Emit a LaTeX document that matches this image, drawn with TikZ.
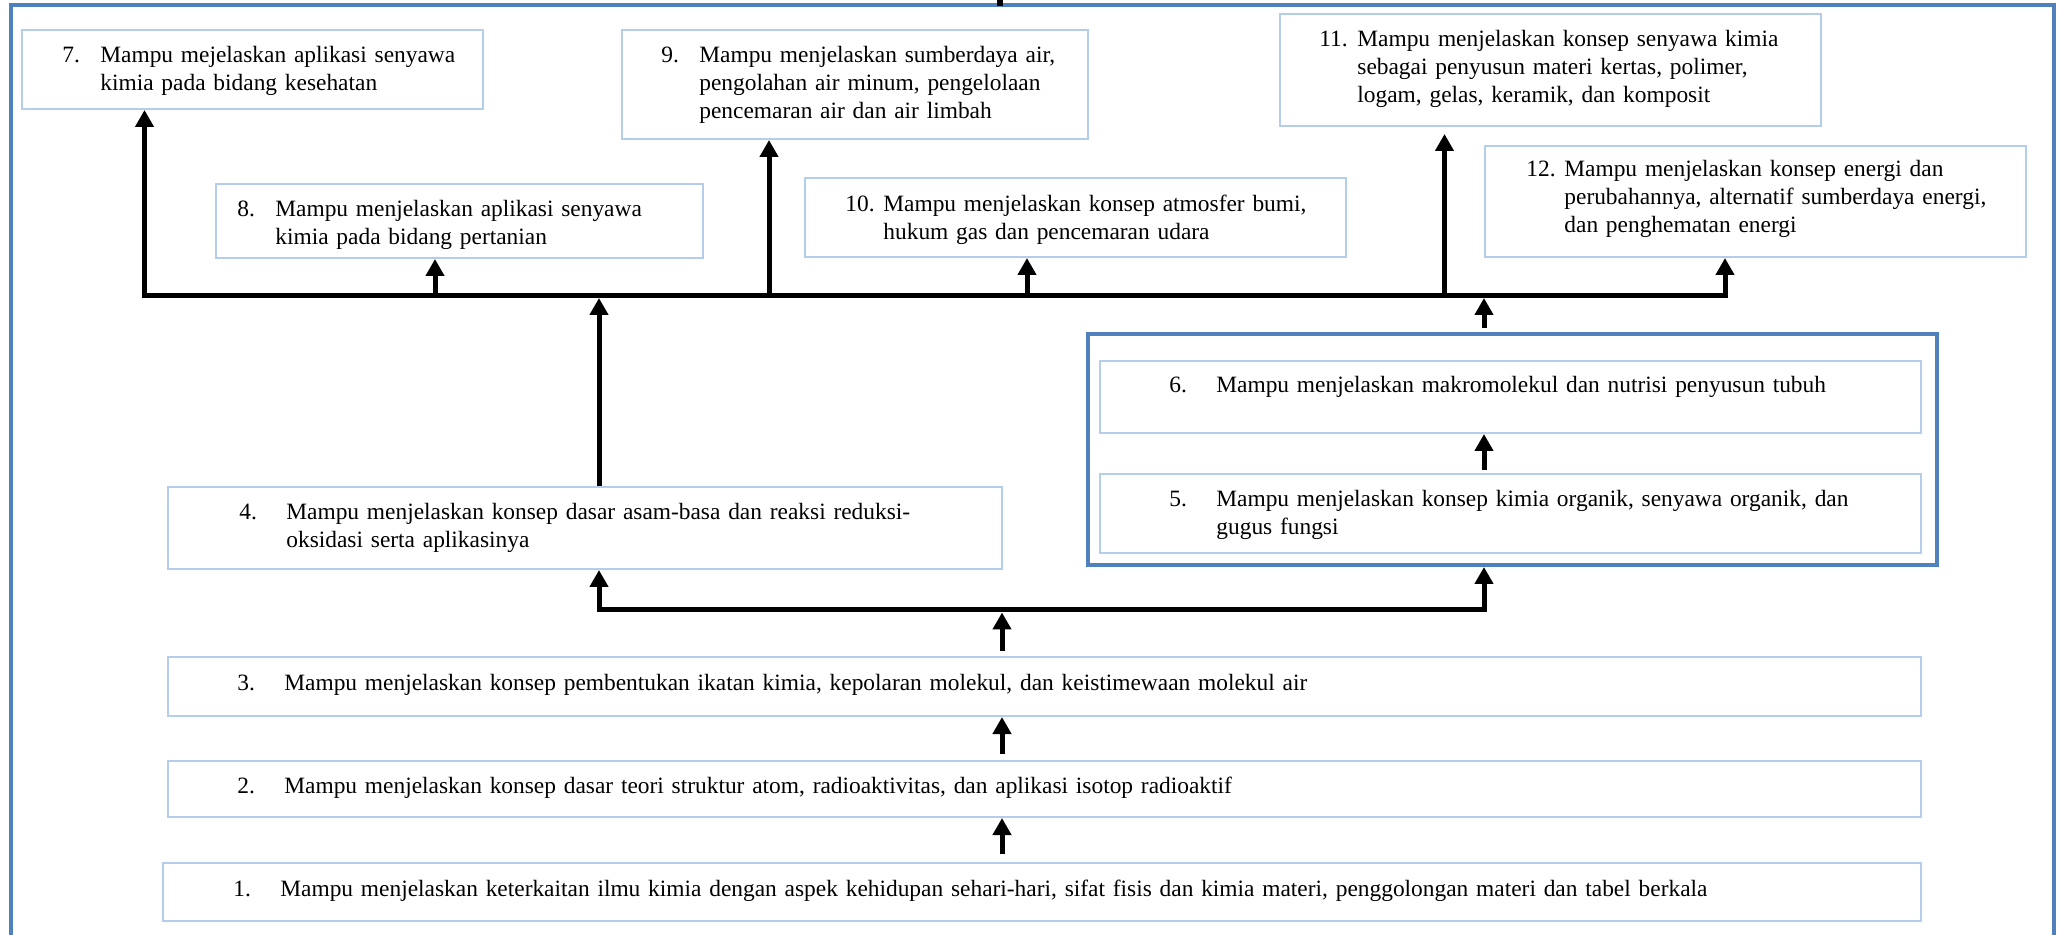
\documentclass[tikz,border=0pt]{standalone}
\usepackage{fontspec}
\setmainfont{Liberation Serif}
\usetikzlibrary{arrows.meta,fit}
\definecolor{bingkai}{HTML}{4F81BD}
\definecolor{tepikotak}{HTML}{B4CDEB}
\begin{document}
\begin{tikzpicture}[x=0.5pt,y=-0.5pt,line join=miter,font=\fontsize{11.7}{13.8}\selectfont,
 kotak/.style={draw=tepikotak,line width=1pt,inner sep=0pt},
 grup/.style={draw=bingkai,line width=2pt,inner sep=0pt},
 teks/.style={anchor=base west,inner sep=0pt,align=left},
 ujung/.tip={Triangle[width=9pt,length=8.5pt]},
 panah/.style={line width=2.5pt,-ujung},
 ]
 \useasboundingbox (0,0) rectangle (2058,935);
 \fill[white] (0,0) rectangle (2058,935);
 % bingkai luar
 \draw[bingkai,line width=2pt] (11,935)--(11,5.5)--(2054,5.5)--(2054,935);
 \coordinate (atas) at (1000,0);
 \draw[line width=3pt] (atas)--++(0,6);

 % kotak-kotak
 \node[kotak,fit={(22,30) (483,109)}] (k7) {};
 \node[kotak,fit={(216,184) (703,258)}] (k8) {};
 \node[kotak,fit={(622,30) (1088,139)}] (k9) {};
 \node[kotak,fit={(805,178) (1346,257)}] (k10) {};
 \node[kotak,fit={(1280,14) (1821,126)}] (k11) {};
 \node[kotak,fit={(1485,146) (2026,257)}] (k12) {};
 \node[grup,fit={(1088,334) (1937,565)}] (g56) {};
 \node[kotak,fit={(1100,361) (1921,433)}] (k6) {};
 \node[kotak,fit={(1100,474) (1921,553)}] (k5) {};
 \node[kotak,fit={(168,487) (1002,569)}] (k4) {};
 \node[kotak,fit={(168,657) (1921,716)}] (k3) {};
 \node[kotak,fit={(168,761) (1921,817)}] (k2) {};
 \node[kotak,fit={(163,863) (1921,921)}] (k1) {};

 % teks
 \node[teks,text width=240pt] (t7) at (62,63) {\makebox[19pt][l]{7.}Mampu mejelaskan aplikasi senyawa\\\hspace*{19pt}kimia pada bidang kesehatan};
 \node[teks,text width=240pt] (t8) at (237,217) {\makebox[19pt][l]{8.}Mampu menjelaskan aplikasi senyawa\\\hspace*{19pt}kimia pada bidang pertanian};
 \node[teks,text width=240pt] (t9) at (661,63) {\makebox[19pt][l]{9.}Mampu menjelaskan sumberdaya air,\\\hspace*{19pt}pengolahan air minum, pengelolaan\\\hspace*{19pt}pencemaran air dan air limbah};
 \node[teks,text width=260pt] (t10) at (845,212) {\makebox[19pt][l]{10.}Mampu menjelaskan konsep atmosfer bumi,\\\hspace*{19pt}hukum gas dan pencemaran udara};
 \node[teks,text width=260pt] (t11) at (1319,47) {\makebox[19pt][l]{11.}Mampu menjelaskan konsep senyawa kimia\\\hspace*{19pt}sebagai penyusun materi kertas, polimer,\\\hspace*{19pt}logam, gelas, keramik, dan komposit};
 \node[teks,text width=260pt] (t12) at (1526,177) {\makebox[19pt][l]{12.}Mampu menjelaskan konsep energi dan\\\hspace*{19pt}perubahannya, alternatif sumberdaya energi,\\\hspace*{19pt}dan penghematan energi};
 \node[teks,text width=400pt] (t6) at (1169,393) {\makebox[23.5pt][l]{6.}Mampu menjelaskan makromolekul dan nutrisi penyusun tubuh};
 \node[teks,text width=400pt] (t5) at (1169,507) {\makebox[23.5pt][l]{5.}Mampu menjelaskan konsep kimia organik, senyawa organik, dan\\\hspace*{23.5pt}gugus fungsi};
 \node[teks,text width=400pt] (t4) at (239,520) {\makebox[23.5pt][l]{4.}Mampu menjelaskan konsep dasar asam-basa dan reaksi reduksi-\\\hspace*{23.5pt}oksidasi serta aplikasinya};
 \node[teks,text width=800pt] (t3) at (237,690) {\makebox[23.5pt][l]{3.}Mampu menjelaskan konsep pembentukan ikatan kimia, kepolaran molekul, dan keistimewaan molekul air};
 \node[teks,text width=800pt] (t2) at (237,793) {\makebox[23.5pt][l]{2.}Mampu menjelaskan konsep dasar teori struktur atom, radioaktivitas, dan aplikasi isotop radioaktif};
 \node[teks,text width=800pt] (t1) at (233,896) {\makebox[23.5pt][l]{1.}Mampu menjelaskan keterkaitan ilmu kimia dengan aspek kehidupan sehari-hari, sifat fisis dan kimia materi, penggolongan materi dan tabel berkala};

 % garis bus atas
 \coordinate (b7) at (144.5,295.5);
 \coordinate (b8) at (435,295.5);
 \coordinate (b9) at (769,295.5);
 \coordinate (b10) at (1027,295.5);
 \coordinate (b11) at (1444.5,295.5);
 \coordinate (b12) at (1725,295.5);
 \coordinate (m4) at (599,298);
 \coordinate (m6) at (1484,298);
 \draw[line width=2.5pt,ujung-ujung] (b7 |- k7.south)--(b7)--(b12)--(b12 |- k12.south);
 \draw[panah] (b8)--(b8 |- k8.south);
 \draw[panah] (b9)--(b9 |- k9.south);
 \draw[panah] (b10)--(b10 |- k10.south);
 \draw[panah,shorten >=3.5pt] (b11)--(b11 |- k11.south);
 \draw[panah] (m4 |- k4.north)--(m4);
 \draw[panah,shorten <=2pt] (m6 |- g56.north)--(m6);

 % garis bus bawah
 \coordinate (c4) at (599,609.5);
 \coordinate (c5) at (1484,609.5);
 \coordinate (c3) at (1002,612.5);
 \draw[line width=2.5pt,ujung-ujung] (c4 |- k4.south)--(c4)--(c5)--(c5 |- g56.south);
 \draw[panah,shorten <=2.5pt] (c3 |- k3.north)--(c3);
 \draw[panah,shorten <=3pt] (k2.north -| c3)--(k3.south -| c3);
 \draw[panah,shorten <=4pt] (k1.north -| c3)--(k2.south -| c3);
 \draw[panah,shorten <=1.5pt] (k5.north -| c5)--(k6.south -| c5);
\end{tikzpicture}
\end{document}
